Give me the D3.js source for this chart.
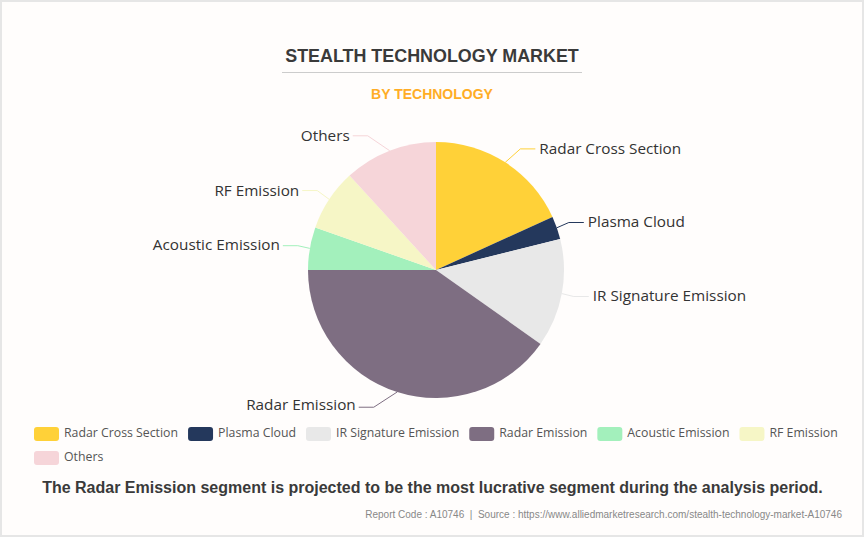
<!DOCTYPE html>
<html>
<head>
<meta charset="utf-8">
<script src="https://cdn.jsdelivr.net/npm/d3@7"></script>
<style>
    html, body { margin: 0; padding: 0; background: #fffdfc; }
    svg { display: block; }
    .arial { font-family: "Liberation Sans", Arial, sans-serif; }
    .lbl { font-family: "Open Sans", sans-serif; }
</style>
</head>
<body>
<div id="chart"></div>
<script>
const categories = ['Radar Cross Section', 'Plasma Cloud', 'IR Signature Emission', 'Radar Emission', 'Acoustic Emission', 'RF Emission', 'Others']
const shares = [18.2, 2.9, 13.7, 40.2, 5.4, 7.8, 11.8]
const colors = ['#ffd138', '#24385c', '#e8e8e8', '#7e6e82', '#a3f0bc', '#f6f6c6', '#f6d5d9']

const width = 864, height = 537
const cx = 436, cy = 270, radius = 128

const svg = d3.select('#chart').append('svg')
    .attr('width', width)
    .attr('height', height)

// page frame
svg.append('rect')
    .attr('x', 1).attr('y', 1)
    .attr('width', width - 2).attr('height', height - 2)
    .attr('fill', '#fffdfc')
    .attr('stroke', '#e6e6e6')
    .attr('stroke-width', 2)

svg.append('text').attr('class', 'arial')
    .attr('x', 432).attr('y', 62)
    .attr('text-anchor', 'middle')
    .attr('font-size', 17.9).attr('font-weight', 700)
    .attr('fill', '#3a3a3a')
    .text('STEALTH TECHNOLOGY MARKET')

svg.append('line')
    .attr('x1', 282).attr('x2', 582)
    .attr('y1', 72.5).attr('y2', 72.5)
    .attr('stroke', '#cccccc')

svg.append('text').attr('class', 'arial')
    .attr('x', 432).attr('y', 99)
    .attr('text-anchor', 'middle')
    .attr('font-size', 14).attr('font-weight', 700)
    .attr('fill', '#ffad26')
    .text('BY TECHNOLOGY')

// pie
const pie = d3.pie().sort(null).value(d => d)
const arcs = pie(shares)
const arc = d3.arc().innerRadius(0).outerRadius(radius)

const g = svg.append('g').attr('transform', `translate(${cx},${cy})`)

g.selectAll('path.slice')
    .data(arcs)
    .join('path')
    .attr('class', 'slice')
    .attr('d', arc)
    .attr('fill', (d, i) => colors[i])

// leader line: out from the rim, an elbow, then a flat run to the label
function leader(d) {
    const a = (d.startAngle + d.endAngle) / 2
    const s = Math.sin(a), c = Math.cos(a)
    const side = s >= 0 ? 1 : -1
    const x0 = radius * s, y0 = -radius * c
    const y1 = -(radius + 16) * c
    const x1 = x0 + side * (12 + 75 * Math.max(0, Math.abs(c) - 0.8))
    const x2 = x1 + side * 15
    return { side, c, pts: [[x0, y0], [x1, y1], [x2, y1]] }
}

g.selectAll('path.leader')
    .data(arcs)
    .join('path')
    .attr('class', 'leader')
    .attr('fill', 'none')
    .attr('stroke', (d, i) => colors[i])
    .attr('d', d => d3.line()(leader(d).pts))

g.selectAll('text.lbl')
    .data(arcs)
    .join('text')
    .attr('class', 'lbl')
    .attr('x', d => { const l = leader(d); return l.pts[2][0] + (l.side > 0 ? 4 : -3) })
    .attr('y', d => { const l = leader(d); return l.pts[2][1] - 1 + l.c * 1.2 })
    .attr('dy', '0.35em')
    .attr('text-anchor', d => leader(d).side > 0 ? 'start' : 'end')
    .attr('font-size', 15.3)
    .attr('fill', '#333333')
    .text((d, i) => categories[i])

// legend, flows left to right and wraps
const legend = svg.append('g')
let lx = 34, ly = 427
categories.forEach((name, i) => {
    const item = legend.append('g')
    const t = item.append('text').attr('class', 'lbl')
        .attr('font-size', 12.3)
        .attr('fill', '#555555')
        .attr('dy', '0.35em')
        .attr('x', 30).attr('y', 6)
        .text(name)
    const w = 30 + t.node().getComputedTextLength()
    if (lx + w > 845) { lx = 34; ly += 24 }
    item.attr('transform', `translate(${lx},${ly})`)
    item.insert('rect', 'text')
        .attr('width', 25).attr('height', 14)
        .attr('rx', 3)
        .attr('fill', colors[i])
    lx += w + 10
})

svg.append('text').attr('class', 'arial')
    .attr('x', 432.5).attr('y', 493)
    .attr('text-anchor', 'middle')
    .attr('font-size', 16).attr('font-weight', 700)
    .attr('fill', '#3a3a3a')
    .text('The Radar Emission segment is projected to be the most lucrative segment during the analysis period.')

svg.append('text').attr('class', 'arial')
    .attr('x', 842).attr('y', 518)
    .attr('text-anchor', 'end')
    .attr('font-size', 10)
    .attr('fill', '#888888')
    .attr('xml:space', 'preserve')
    .text('Report Code : A10746  |  Source : https://www.alliedmarketresearch.com/stealth-technology-market-A10746')
</script>
</body>
</html>
